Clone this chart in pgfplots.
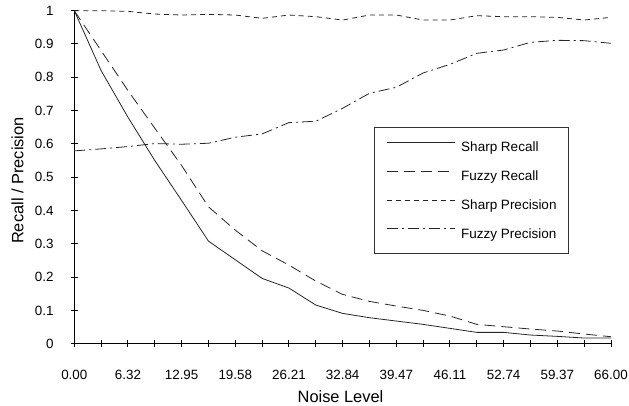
\documentclass[border=0pt]{standalone}
\usepackage{fontspec}
\setmainfont{Liberation Sans}
\usepackage{pgfplots}
\pgfplotsset{compat=1.18}

\begin{document}
\begin{tikzpicture}
\useasboundingbox (-74.3pt,-62.3pt) rectangle (554.7pt,343.7pt);
\begin{axis}[
    scale only axis,
    width=536.7pt, height=333pt,
    xmin=0, xmax=20, ymin=0, ymax=1,
    clip=false,
    axis lines=left,
    axis line style={-, line width=1pt, black},
    xtick={0,...,20},
    xticklabels={0.00,,6.32,,12.95,,19.58,,26.21,,32.84,,39.47,,46.11,,52.74,,59.37,,66.00},
    ytick={0,0.1,0.2,0.3,0.4,0.5,0.6,0.7,0.8,0.9,1},
    yticklabels={0,0.1,0.2,0.3,0.4,0.5,0.6,0.7,0.8,0.9,1},
    tick align=center, major tick length=7pt,
    tick style={line width=1pt, black},
    /pgf/number format/assume math mode=true,
    tick label style={font=\fontsize{13.4}{16}\selectfont, inner sep=0pt},
    xticklabel style={anchor=base, yshift=-32.3pt},
    yticklabel style={anchor=east, xshift=-17pt},
    xlabel={Noise Level},
    ylabel={Recall / Precision},
    label style={font=\fontsize{16.4}{19}\selectfont, inner sep=0pt},
    xlabel style={at={(axis description cs:0.496,-0.176)}, anchor=base},
    ylabel style={at={(axis description cs:-0.095,0.49)}, anchor=base},
    legend cell align=left,
    legend image code/.code={\draw[#1] (0pt,5pt) -- (68pt,5pt);},
    legend style={
        at={(axis description cs:0.5584,0.6517)}, anchor=north west,
        draw=black!80, line width=0.9pt,
        inner xsep=12pt, inner ysep=12.5pt,
        row sep=13.9pt, column sep=6pt,
        font=\fontsize{13.5}{16}\selectfont,
        nodes={inner sep=0pt, text height=12pt, text depth=3pt},
    },
]
% Sharp Recall
\addplot[black!85, line width=0.8pt] coordinates {
    (0,1.000)(1,0.820)(2,0.680)(3,0.550)(4,0.430)(5,0.308)(6,0.252)
    (7,0.196)(8,0.167)(9,0.116)(10,0.091)(11,0.078)(12,0.068)(13,0.058)
    (14,0.046)(15,0.034)(16,0.034)(17,0.026)(18,0.022)(19,0.017)(20,0.017)
};
% Fuzzy Recall
\addplot[black!85, line width=0.8pt, dash pattern=on 11pt off 6pt] coordinates {
    (0,1.000)(1,0.880)(2,0.760)(3,0.647)(4,0.535)(5,0.411)(6,0.341)
    (7,0.279)(8,0.236)(9,0.188)(10,0.148)(11,0.127)(12,0.113)(13,0.100)
    (14,0.083)(15,0.058)(16,0.051)(17,0.044)(18,0.038)(19,0.029)(20,0.021)
};
% Sharp Precision
\addplot[black!85, line width=0.8pt, dash pattern=on 5pt off 4pt] coordinates {
    (0,1.000)(1,1.000)(2,0.998)(3,0.990)(4,0.987)(5,0.989)(6,0.987)
    (7,0.977)(8,0.987)(9,0.982)(10,0.972)(11,0.987)(12,0.987)(13,0.972)
    (14,0.972)(15,0.985)(16,0.982)(17,0.982)(18,0.980)(19,0.972)(20,0.980)
};
% Fuzzy Precision
\addplot[black!85, line width=0.8pt, dash pattern=on 11pt off 4pt on 2pt off 4pt] coordinates {
    (0,0.579)(1,0.585)(2,0.592)(3,0.601)(4,0.599)(5,0.602)(6,0.620)
    (7,0.630)(8,0.664)(9,0.668)(10,0.707)(11,0.752)(12,0.770)(13,0.813)
    (14,0.839)(15,0.872)(16,0.882)(17,0.905)(18,0.911)(19,0.910)(20,0.902)
};
\legend{Sharp Recall, Fuzzy Recall, Sharp Precision, Fuzzy Precision}
\end{axis}
\end{tikzpicture}
\end{document}
